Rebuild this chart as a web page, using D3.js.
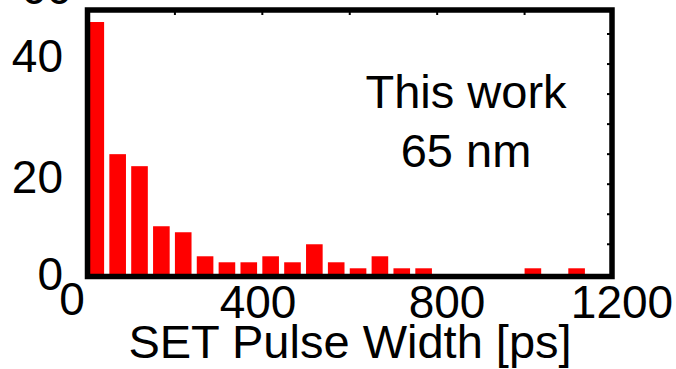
<!DOCTYPE html>
<html>
<head>
<meta charset="utf-8">
<script src="https://cdn.jsdelivr.net/npm/d3@7"></script>
<style>
  html, body { margin: 0; padding: 0; background: #fff; }
  svg { display: block; font-family: Arial, 'Liberation Sans', Helvetica, sans-serif; }
</style>
</head>
<body>
<div id="chart"></div>
<script>
// histogram bins (ps) and counts
const binStarts = [0, 50, 100, 150, 200, 250, 300, 350, 400, 450, 500, 550,
  600, 650, 700, 750, 800, 850, 900, 950, 1000, 1050, 1100, 1150];
const counts = [42, 20, 18, 8, 7, 3, 2, 2, 3, 2, 5, 2,
  1, 3, 1, 1, 0, 0, 0, 0, 1, 0, 1, 0];
const xTickLabels = [0, 400, 800, 1200];
const yTickLabels = [0, 20, 40, 60];
const topTicks = [200, 400, 600, 800, 1000];
const rightTicks = [5, 10, 15, 20, 25, 30, 35, 40];
const noteLines = ['This work', '65 nm'];
const xTitle = 'SET Pulse Width [ps]';

const W = 676, H = 369;
const svg = d3.select('#chart').append('svg')
  .attr('width', W)
  .attr('height', H);

const x = d3.scaleLinear().domain([0, 1200]).range([87.5, 612]);
const y = d3.scaleLinear().domain([0, 44]).range([274.3, 10]);

// labels in the source sit a bit off the true ticks
const xLabelPos = d3.scaleLinear().domain(xTickLabels).range([72, 258, 447, 622]);
const yLabelPos = d3.scaleLinear().domain(yTickLabels).range([290, 193, 72, 4]);

const barWidth = 38;

svg.selectAll('.bar')
  .data(binStarts.map((b, i) => ({ b, v: counts[i] })).filter(d => d.v > 0))
  .enter()
  .append('rect')
  .attr('class', 'bar')
  .attr('x', d => x(d.b))
  .attr('y', d => y(d.v))
  .attr('width', d => x(d.b + barWidth) - x(d.b))
  .attr('height', d => y(0) - y(d.v) + 2)
  .attr('fill', '#ff0000');

// inner minor ticks on top and right
svg.selectAll('.tt')
  .data(topTicks)
  .enter()
  .append('line')
  .attr('x1', d => x(d)).attr('x2', d => x(d))
  .attr('y1', y.range()[1]).attr('y2', y.range()[1] + 5)
  .attr('stroke', '#000').attr('stroke-width', 2);

svg.selectAll('.rt')
  .data(rightTicks)
  .enter()
  .append('line')
  .attr('x1', x.range()[1]).attr('x2', x.range()[1] - 5)
  .attr('y1', d => y(d)).attr('y2', d => y(d))
  .attr('stroke', '#000').attr('stroke-width', 2);

// frame
svg.append('rect')
  .attr('x', x.range()[0])
  .attr('y', y.range()[1])
  .attr('width', x.range()[1] - x.range()[0])
  .attr('height', 276.5 - y.range()[1])
  .attr('fill', 'none')
  .attr('stroke', '#000')
  .attr('stroke-width', 5.5);

svg.selectAll('.xl')
  .data(xTickLabels)
  .enter()
  .append('text')
  .attr('x', d => xLabelPos(d))
  .attr('y', (d, i) => (i === 0 ? 315 : 318))
  .attr('text-anchor', 'middle')
  .attr('font-size', 46)
  .text(d => d);

svg.selectAll('.yl')
  .data(yTickLabels)
  .enter()
  .append('text')
  .attr('x', d => (d === 60 ? 72 : 63))
  .attr('y', d => yLabelPos(d))
  .attr('text-anchor', 'end')
  .attr('font-size', 46)
  .text(d => d);

svg.append('text')
  .attr('x', 350)
  .attr('y', 358)
  .attr('text-anchor', 'middle')
  .attr('font-size', 47)
  .text(xTitle);

svg.selectAll('.note')
  .data(noteLines)
  .enter()
  .append('text')
  .attr('x', 466)
  .attr('y', (d, i) => 108 + i * 59)
  .attr('text-anchor', 'middle')
  .attr('font-size', 47)
  .text(d => d);
</script>
</body>
</html>
